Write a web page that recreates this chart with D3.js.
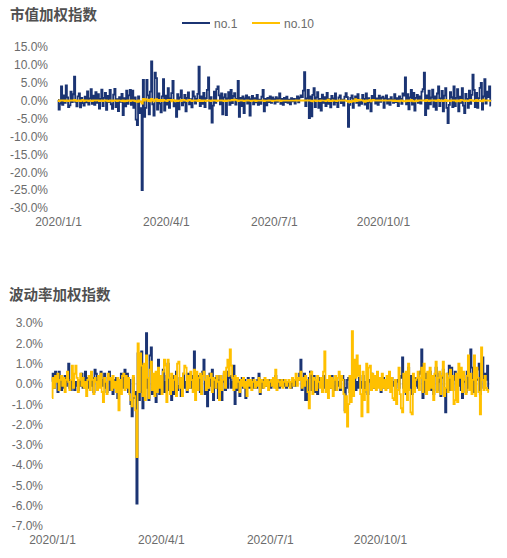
<!DOCTYPE html>
<html>
<head>
<meta charset="utf-8">
<script src="https://cdn.jsdelivr.net/npm/d3@7"></script>
<style>
  html, body { margin: 0; padding: 0; background: #fff; }
  svg { display: block; }
  .title { font-family: "Noto Sans CJK SC", sans-serif; font-size: 14.5px; font-weight: bold; fill: #505050; }
  .tick text, .legend text { font-family: "Liberation Sans", Arial, sans-serif; font-size: 12px; fill: #6b6b6b; }
</style>
</head>
<body>
<svg id="chart" width="507" height="558"></svg>
<script>
// --- Data (daily returns, %) ---
const startDate = new Date(2020, 0, 1);
const endDate = new Date(2021, 0, 1);
const xTickDates = [new Date(2020, 0, 1), new Date(2020, 3, 1), new Date(2020, 6, 1), new Date(2020, 9, 1)];
const seriesNames = ["no.1", "no.10"];
const mvTicks = [15, 10, 5, 0, -5, -10, -15, -20, -25, -30];
const volTicks = [3, 2, 1, 0, -1, -2, -3, -4, -5, -6, -7];

// 市值加权指数 no.1
const mvNo1 = [
  0.2,-2.5,-0.8,4.0,-1.2,1.5,-0.6,4.3,0.9,-1.8,-1.3,2.5,-0.4,1.8,6.7,-0.3,-1.6,1.2,2.0,-1.9,0.8,-0.7,-1.4,1.1,-0.5,2.6,-1.1,0.6,3.2,-0.9,1.4,
  -1.2,2.4,-0.6,1.8,-2.2,0.5,3.1,-1.5,0.8,2.2,-2.6,1.3,-0.4,3.0,-1.0,-2.3,1.7,3.3,-1.8,0.4,-2.9,1.0,-0.3,1.9,-4.0,0.7,-1.6,2.8,-0.9,
  1.5,3.0,-1.2,2.8,-2.0,0.9,-5.3,-6.8,1.2,-3.5,-2.1,-25.0,5.8,-4.5,-2.0,5.8,1.5,-3.8,2.5,11.0,-1.0,-4.2,7.8,6.3,-2.5,2.0,-0.8,-3.3,1.2,6.0,-2.8,
  1.4,-1.1,3.5,-2.0,0.6,2.1,5.5,-1.6,-0.7,-4.5,1.8,-2.4,0.9,2.9,-1.3,-0.5,1.6,-3.0,0.8,2.3,-1.0,0.4,-1.9,2.6,1.2,-0.8,0.5,1.9,9.5,-1.5,
  1.2,-0.9,2.2,-1.8,0.7,3.0,6.5,-2.2,1.0,-6.1,-1.4,2.5,-0.6,3.2,4.0,1.5,-1.0,2.0,-3.8,0.9,1.8,-4.0,0.6,2.4,-1.2,3.0,-0.7,1.3,2.1,-1.1,0.5,
  5.5,-4.5,0.8,-1.5,1.2,-3.5,0.6,1.5,-0.8,1.0,-4.2,0.4,1.3,-1.0,0.7,-0.5,1.6,-1.2,0.3,-0.9,1.1,3.0,-3.0,0.5,-1.3,0.8,-0.4,1.2,-0.6,0.9,
  0.4,-0.8,1.0,-0.3,0.6,2.0,-0.9,0.5,-1.2,0.8,-0.4,1.1,-0.6,0.3,-1.0,0.7,-0.2,0.5,-0.8,0.4,1.2,-0.5,0.9,1.5,1.0,2.8,8.0,-1.5,0.6,3.0,-4.9,
  1.2,-4.4,1.6,3.5,-1.8,0.9,2.4,-2.0,0.5,-2.8,1.7,-0.6,1.0,-1.5,2.2,-0.9,0.4,-1.9,1.3,0.6,-1.1,2.0,-0.4,-1.8,0.9,1.5,-0.7,0.3,-1.4,1.1,2.1,
  1.0,-7.3,-1.2,0.8,1.5,-2.0,0.4,1.2,-0.6,1.8,-1.4,0.3,-0.9,1.6,0.5,-1.1,2.0,-2.2,0.7,-0.5,-3.0,1.3,0.2,3.0,-0.8,0.6,-1.2,1.4,-0.3,0.8,
  1.1,-2.0,0.6,1.5,-0.8,0.4,-1.2,1.0,0.3,-0.6,1.8,-0.4,0.7,-1.5,1.2,0.5,-0.9,2.0,1.4,6.5,-1.0,1.8,-2.4,0.9,3.0,-1.1,2.2,-2.8,0.8,1.6,-0.6,
  1.2,-0.8,2.5,3.2,7.8,-4.0,1.5,-2.2,2.8,-1.0,0.9,3.1,-1.7,1.2,-2.6,2.0,4.0,-1.5,0.6,2.7,-3.0,1.4,3.5,-2.0,-6.3,-1.2,2.4,1.0,-1.8,4.0,
  -1.5,0.8,3.2,-3.0,1.1,-0.6,3.5,-1.4,-3.5,1.9,0.5,-2.0,2.8,-0.9,1.6,7.3,3.0,-1.8,2.2,-2.0,0.7,3.6,5.0,-2.5,1.2,6.0,-0.8,2.5,1.0,4.0,-1.4
];

// 市值加权指数 no.10
const mvNo10 = [
  0.1,-0.1,0.0,0.1,0.0,0.1,-0.1,0.1,0.0,-0.1,0.1,0.0,0.1,0.0,0.2,0.0,-0.1,0.1,0.1,-0.1,0.1,0.2,-0.1,0.0,0.1,0.0,-0.1,0.1,0.0,-0.1,0.1,
  0.1,0.0,0.1,0.1,-0.1,0.0,0.1,-0.1,0.1,0.0,0.1,-0.1,-0.2,0.1,0.0,-0.1,0.1,0.0,0.1,-0.1,0.1,0.0,0.0,-0.1,0.1,-0.2,0.0,-0.1,0.1,
  0.1,-0.1,0.1,0.0,0.1,-0.1,-0.2,-0.3,0.1,-0.2,-0.3,-0.8,0.5,0.0,0.4,0.3,-0.1,0.3,-0.2,0.5,0.1,-0.2,0.3,0.4,-0.1,0.2,-0.1,0.2,-0.1,0.2,0.0,
  0.1,-0.1,0.2,0.2,0.2,-0.2,0.2,0.1,-0.1,0.1,-0.1,0.0,0.1,-0.1,0.2,0.2,0.0,0.1,-0.1,0.1,0.2,0.1,-0.1,0.1,0.0,0.1,0.0,-0.1,0.2,-0.1,
  0.1,-0.1,0.1,0.1,-0.1,0.1,0.1,0.0,-0.1,0.1,0.0,0.1,0.1,-0.1,0.1,0.0,0.0,0.1,0.0,-0.1,0.1,-0.1,0.0,0.1,0.0,0.1,0.2,0.1,0.3,0.2,0.1,
  -0.1,0.1,0.0,0.1,0.0,-0.1,0.0,0.0,0.1,0.0,0.0,-0.1,0.0,0.0,0.1,-0.1,0.0,0.0,0.0,0.0,0.0,0.1,-0.1,0.0,0.0,0.0,0.1,0.0,0.0,-0.1,
  0.0,0.0,0.0,0.1,0.0,0.1,-0.1,0.0,0.0,0.0,0.0,0.0,0.0,0.0,0.0,0.0,0.0,0.0,0.0,0.1,0.0,0.0,0.1,0.0,0.1,0.0,0.1,0.0,0.1,0.0,0.1,
  0.0,-0.1,-0.2,0.1,0.1,-0.1,0.0,0.0,-0.1,0.1,0.0,0.0,0.0,-0.1,0.1,0.3,-0.1,0.0,-0.1,0.1,0.0,0.0,-0.1,0.0,0.1,0.0,0.0,0.1,0.0,0.1,0.0,
  -0.1,-0.3,-0.1,-0.4,-0.2,0.1,-0.2,0.4,-0.1,0.2,0.0,0.2,0.1,0.1,-0.1,-0.3,0.1,-0.1,0.0,0.2,-0.2,0.1,0.2,0.0,0.1,0.0,0.1,0.0,0.1,0.0,
  0.1,0.0,0.1,0.0,0.0,0.0,0.1,0.0,0.1,-0.1,0.1,-0.1,-0.1,0.0,-0.2,0.0,0.1,-0.1,-0.2,-0.2,0.1,-0.1,0.1,-0.1,0.2,0.0,-0.2,-0.2,0.1,-0.1,0.0,
  0.1,0.1,0.0,0.1,0.1,-0.1,0.2,0.0,-0.1,0.1,0.0,0.1,0.0,0.1,-0.1,0.1,0.2,-0.1,0.1,0.1,-0.1,0.1,0.2,-0.1,0.0,0.1,-0.1,0.1,0.1,0.0,
  0.1,-0.2,-0.1,0.1,-0.2,0.2,0.1,0.1,-0.1,0.1,0.0,-0.1,0.1,0.2,0.0,0.1,-0.1,0.0,0.2,-0.1,0.1,0.1,-0.1,-0.2,0.3,0.0,0.0,0.1,0.0,0.0,-0.1
];

// 波动率加权指数 no.1
const volNo1 = [
  0.1,0.5,-0.2,0.6,0.3,-0.4,0.6,0.2,-0.3,0.1,-0.2,0.4,-0.1,0.3,1.0,-0.2,-0.3,0.2,0.4,-0.3,0.1,-0.1,-0.3,0.2,-0.1,0.5,-0.2,0.1,0.6,-0.2,0.3,
  -0.2,0.4,-0.1,0.3,-0.4,0.7,0.5,-0.3,0.2,0.4,0.6,0.2,-0.1,0.5,-0.2,-0.4,0.3,0.6,-0.3,0.1,-0.5,0.2,-0.1,0.3,-0.7,0.1,-0.3,0.5,-0.2,
  0.3,0.7,-0.2,0.5,-0.4,0.2,-1.0,-1.6,0.3,-0.7,-0.4,-5.9,1.5,-0.8,-0.4,1.6,-1.2,-0.6,0.5,2.5,-0.2,-0.8,1.4,1.8,-0.5,0.4,-0.2,-0.9,0.3,1.2,-0.5,
  0.3,-0.2,0.7,-0.4,0.1,0.4,1.0,-0.3,-0.1,-0.8,0.4,-0.5,0.2,0.6,-0.3,-0.1,0.3,-0.6,0.2,0.5,-0.2,0.1,-0.4,0.5,0.3,-0.2,0.1,0.4,1.6,-0.3,
  0.3,-0.2,0.4,-0.4,0.2,0.6,1.2,-0.5,0.2,-1.1,-0.3,0.5,-0.1,0.7,-0.8,0.3,-0.2,0.4,-0.7,0.2,0.4,-0.8,0.1,0.5,-0.3,0.6,-0.2,0.3,0.4,-0.2,0.1,
  0.9,-1.0,0.2,-0.3,0.2,-0.6,0.1,0.3,-0.2,0.2,-0.7,0.1,0.3,-0.2,0.1,-0.1,0.3,-0.2,0.1,-0.2,0.2,0.5,-0.5,0.1,-0.2,0.2,-0.1,0.2,-0.1,0.2,
  0.1,-0.2,0.2,-0.1,0.1,0.4,-0.2,0.1,-0.2,0.2,-0.1,0.2,-0.1,0.1,-0.2,0.1,-0.1,0.1,-0.2,0.1,0.2,-0.1,0.2,0.3,0.2,0.5,1.2,-0.3,0.1,0.5,-0.8,
  0.2,-0.8,0.3,0.6,-0.3,0.2,0.4,-0.4,0.1,-0.5,0.3,-0.1,0.2,-0.3,0.4,-0.2,0.1,-0.3,0.2,0.1,-0.2,0.4,-0.1,-0.3,0.2,0.3,-0.1,0.1,-0.3,0.2,0.4,
  0.2,-1.3,-0.2,0.2,0.3,-0.4,0.1,0.2,-0.1,0.3,-0.3,0.1,-0.2,0.3,0.1,-0.2,0.4,-0.4,0.1,-0.1,-0.5,0.2,0.1,0.5,-0.2,0.1,-0.2,0.3,-0.1,0.2,
  0.2,-0.4,0.1,0.3,-0.2,0.1,-0.2,0.2,0.1,-0.1,0.3,-0.1,0.1,-0.3,0.2,0.1,-0.2,0.4,0.3,1.3,-0.2,0.3,-0.5,0.2,0.8,-0.2,0.4,-0.5,0.1,0.3,-0.1,
  0.3,-0.2,0.5,0.6,1.7,-0.7,0.3,-0.4,0.5,-0.2,0.2,0.6,-0.3,0.2,-0.5,0.4,0.8,-0.3,0.1,0.5,-0.6,0.3,0.7,-0.4,-1.4,-0.2,0.5,0.9,-0.3,0.8,
  -0.3,0.2,0.6,-0.6,0.2,-0.1,0.7,-0.3,-0.7,0.4,0.1,-0.4,0.6,-0.2,0.3,1.7,0.8,-0.4,0.5,-0.4,0.2,0.7,1.0,-0.5,0.3,1.3,-0.2,0.5,0.2,0.9,-0.3
];

// 波动率加权指数 no.10
const volNo10 = [
  -0.7,0.3,-0.2,0.4,0.1,0.5,-0.3,0.2,0.4,-0.1,0.3,-0.4,0.2,0.6,0.1,-0.3,0.2,0.9,-0.2,0.5,0.9,0.3,-0.4,0.2,0.5,-0.1,0.3,-0.2,0.1,-0.6,0.2,
  0.4,-0.3,0.6,0.2,-0.5,0.3,0.1,-0.3,0.4,-0.2,0.5,-0.4,-0.9,0.3,0.1,-0.5,0.5,0.2,0.3,-0.3,0.4,-0.2,0.1,-0.4,0.3,-1.3,0.2,-0.5,0.4,
  0.5,-0.3,0.4,-0.2,0.3,-0.5,-0.8,-1.1,0.4,-0.6,-1.3,-3.6,2.0,-0.4,1.5,0.9,-0.6,1.0,-0.8,1.4,0.3,-0.7,0.7,1.1,-0.3,0.5,-0.6,0.6,-0.4,0.8,-0.2,
  0.4,-0.5,0.6,1.2,0.9,-0.9,1.2,0.3,-0.5,0.5,-0.3,0.2,0.4,-0.6,1.0,1.1,-0.2,0.3,-0.6,0.5,0.9,0.8,-0.3,0.4,-0.2,0.6,0.2,-0.4,0.7,-0.8,
  0.6,-0.3,0.3,0.5,-0.5,0.4,0.6,0.2,-0.3,0.4,-0.2,0.3,0.5,-0.4,0.3,0.2,-0.2,0.4,0.1,-0.8,0.4,-0.3,0.2,0.6,-0.2,0.8,1.2,0.4,1.7,0.9,0.3,
  -0.3,0.4,-0.2,0.3,0.1,-0.4,0.2,-0.1,0.3,-0.2,0.1,-0.6,0.2,-0.1,0.2,-0.3,0.1,0.2,-0.2,0.1,-0.1,0.3,-0.4,0.2,0.1,-0.2,0.3,-0.1,0.2,-0.3,
  0.1,0.2,-0.1,0.3,-0.2,0.7,-0.3,0.2,0.1,-0.1,0.2,-0.2,0.1,0.2,-0.1,0.1,0.2,-0.2,0.1,0.3,-0.1,0.2,0.5,-0.1,0.3,0.2,0.6,-0.2,0.3,-0.1,0.4,
  0.2,-0.4,-1.2,0.5,0.6,-0.5,0.3,0.2,-0.3,0.4,0.1,-0.2,0.3,-0.4,0.6,1.6,-0.4,0.2,-0.7,0.4,-0.2,0.3,-0.6,0.2,0.4,-0.3,0.3,0.6,-0.2,0.4,0.2,
  -0.5,-1.4,-0.6,-2.1,-1.0,0.4,-0.9,2.6,-0.6,1.2,0.3,1.4,0.4,0.9,-0.5,-1.6,0.6,-0.8,-0.3,1.0,-1.4,0.8,0.9,-0.3,0.5,-0.2,0.4,-0.3,0.6,-0.2,
  0.3,-0.3,0.5,-0.2,0.2,-0.3,0.4,-0.2,0.6,-0.4,0.3,-0.7,-0.8,0.2,-1.0,-0.3,0.8,-0.5,-1.2,-1.4,0.5,-0.4,0.6,-0.8,1.0,-0.3,-1.4,-1.5,0.5,-0.4,0.2,
  0.3,0.6,-0.3,0.3,0.8,-0.4,1.0,0.2,-0.5,0.6,-0.3,0.8,-0.2,0.4,-0.8,0.5,1.1,-0.4,0.3,0.6,-0.5,0.4,1.1,-0.6,-0.2,0.5,-0.4,0.3,0.7,-0.3,
  0.4,-1.0,-0.8,0.5,-0.9,1.0,0.3,0.8,-0.4,0.6,0.2,-0.5,0.4,1.4,-0.3,0.5,-0.5,0.2,1.4,-0.6,0.8,0.3,-0.4,-1.5,1.8,0.2,-0.3,0.4,-0.2,-0.3,-0.4
];

const colors = ["#1b3473", "#ffc000"];

// --- Helpers ---
const svg = d3.select("#chart");
const fmtDate = d3.timeFormat("%Y/%-m/%-d");
const dayOf = i => d3.timeDay.offset(startDate, i);

function drawPanel(opts) {
    const g = svg.append("g");

    g.append("text")
        .attr("class", "title")
        .attr("x", opts.titleX)
        .attr("y", opts.titleY)
        .text(opts.title);

    const x = d3.scaleTime()
        .domain([startDate, endDate])
        .range([opts.left, opts.right]);

    const y = d3.scaleLinear()
        .domain([d3.min(opts.ticks), d3.max(opts.ticks)])
        .range([opts.bottom, opts.top]);

    // y axis labels (no line, no ticks)
    const yAxis = g.append("g")
        .attr("transform", `translate(${opts.yLabelX + 3},0)`)
        .call(d3.axisLeft(y)
            .tickValues(opts.ticks)
            .tickSize(0)
            .tickPadding(3)
            .tickFormat(d => d.toFixed(1) + "%"));
    yAxis.select(".domain").remove();

    // x axis labels
    const xAxis = g.append("g")
        .attr("transform", `translate(0,${opts.bottom})`)
        .call(d3.axisBottom(x)
            .tickValues(xTickDates)
            .tickSize(0)
            .tickPadding(opts.xPad)
            .tickFormat(fmtDate));
    xAxis.select(".domain").remove();
    g.selectAll(".tick text").attr("font-family", null).attr("font-size", null);

    // zero line
    g.append("line")
        .attr("x1", opts.left)
        .attr("x2", opts.right)
        .attr("y1", y(0))
        .attr("y2", y(0))
        .attr("stroke", "#d9d9d9")
        .attr("stroke-width", 1);

    // stepped daily lines, like the original
    const line = d3.line()
        .x((d, i) => x(dayOf(i)))
        .y(d => y(d))
        .curve(d3.curveStep);

    opts.series.forEach((vals, k) => {
        g.append("path")
            .datum(vals)
            .attr("fill", "none")
            .attr("stroke", colors[k])
            .attr("stroke-width", 1.8)
            .attr("d", line);
    });
}

// --- Panels ---
drawPanel({
    title: "市值加权指数", titleX: 10, titleY: 20,
    series: [mvNo1, mvNo10], ticks: mvTicks,
    left: 58, right: 492, top: 47, bottom: 208,
    yLabelX: 48, xPad: 9
});

drawPanel({
    title: "波动率加权指数", titleX: 9, titleY: 300,
    series: [volNo1, volNo10], ticks: volTicks,
    left: 52, right: 490, top: 323, bottom: 526,
    yLabelX: 43, xPad: 9
});

// --- Legend ---
const legend = svg.append("g").attr("class", "legend");
const legendX = [182, 252];
seriesNames.forEach((name, k) => {
    legend.append("line")
        .attr("x1", legendX[k])
        .attr("x2", legendX[k] + 28)
        .attr("y1", 23)
        .attr("y2", 23)
        .attr("stroke", colors[k])
        .attr("stroke-width", 2);
    legend.append("text")
        .attr("x", legendX[k] + 32)
        .attr("y", 27.5)
        .text(name);
});
</script>
</body>
</html>
